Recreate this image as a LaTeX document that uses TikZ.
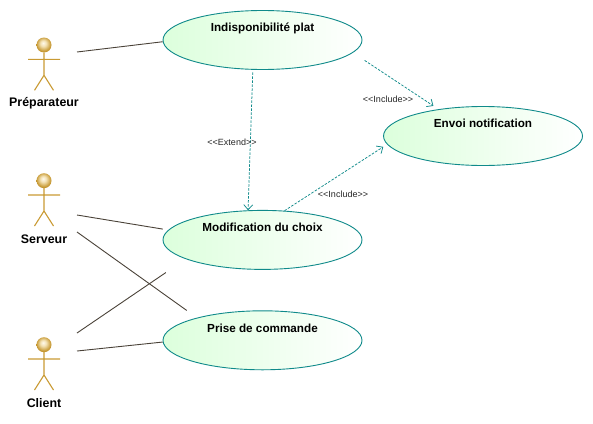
\documentclass[tikz,border=0pt]{standalone}
\usepackage{fontspec}
\setmainfont{Liberation Sans}
\usepackage{tikz}
\usetikzlibrary{positioning,shapes.geometric,arrows.meta}
\definecolor{usecaseline}{HTML}{0F8A8A}
\definecolor{usecasefill}{HTML}{DCFFDC}
\definecolor{actorline}{HTML}{C99A33}
\definecolor{linkline}{HTML}{4A4238}
\pgfdeclareradialshading{actorhead}{\pgfpoint{-3bp}{7bp}}{rgb(0bp)=(1,0.98,0.93); rgb(10bp)=(0.95,0.88,0.7); rgb(24bp)=(0.78,0.6,0.2); rgb(34bp)=(0.68,0.5,0.15); rgb(50bp)=(0.68,0.5,0.15)}
\tikzset{
  usecase/.style={ellipse, draw=usecaseline, line width=0.9pt, left color=usecasefill, right color=white,
    minimum width=199pt, minimum height=59pt, inner sep=0pt, text depth=25pt, font=\bfseries\fontsize{11.7}{14}\selectfont},
  actor name/.style={inner sep=0pt, font=\bfseries\fontsize{12.4}{14}\selectfont},
  tag/.style={inner sep=0pt, text=black!85, font=\fontsize{9}{10}\selectfont},
  assoc/.style={draw=linkline, line width=0.9pt},
  dep/.style={draw=usecaseline, line width=0.75pt, dash pattern=on 2.5pt off 1.5pt, -{Straight Barb[length=5pt,width=9pt]}},
  pics/stickman/.style={code={
    \shade[shading=actorhead] (0,-14.3) circle (7.5pt);
    \draw[actorline, line width=1.1pt] (-16,0) -- (16,0) (0,-6.8) -- (0,16) (-9.5,31) -- (0,16) -- (9.5,31);
  }},
}
\begin{document}
\begin{tikzpicture}[x=1pt, y=-1pt]
        \useasboundingbox (0,0) rectangle (593,423);
        % Nodes
        \node[usecase] (indispo) at (262.5,40) {Indisponibilité plat};
        \node[usecase] [below = 140pt of indispo] (modif) {Modification du choix};
        \node[usecase] [below = 40.5pt of modif] (prise) {Prise de commande};
        \node[usecase] (notif) at (483,136) {Envoi notification};
        \node[actor name] (prep) at (44,103) {Préparateur};
        \node[actor name] (serveur) at (44,239) {Serveur};
        \node[actor name] (client) at (44,403) {Client};
        % Actors
        \pic at (44,59.3) {stickman};
        \pic at (44,195) {stickman};
        \pic at (44,359) {stickman};
        \coordinate (prep arm) at (77,52);
        \coordinate (serveur arm) at (77,215);
        \coordinate (serveur leg) at (77,232);
        \coordinate (client arm) at (77,333);
        \coordinate (client leg) at (77,351);
        % Paths
        \path[assoc]
        (prep arm) edge (indispo.181)
        (serveur arm) edge [shorten >=5.5pt] (modif.174)
        (serveur leg) edge [shorten >=12.5pt] (prise.161)
        (client arm) edge [shorten >=24pt] (modif.194)
        (client leg) edge (prise.181.5);
        \path
        (indispo.-108) edge [dep, shorten <=2.5pt] (modif.116)
        (indispo.-8) edge [dep, shorten <=14pt, shorten >=6pt] (notif.149)
        (modif.53) edge [dep, shorten >=4.5pt] (notif.185);
        \node[tag] (extend) at (232,142) {<{}<Extend>{}>};
        \node[tag] (incl a) at (388,99) {<{}<Include>{}>};
        \node[tag] (incl b) at (343,194) {<{}<Include>{}>};
    \end{tikzpicture}
\end{document}
